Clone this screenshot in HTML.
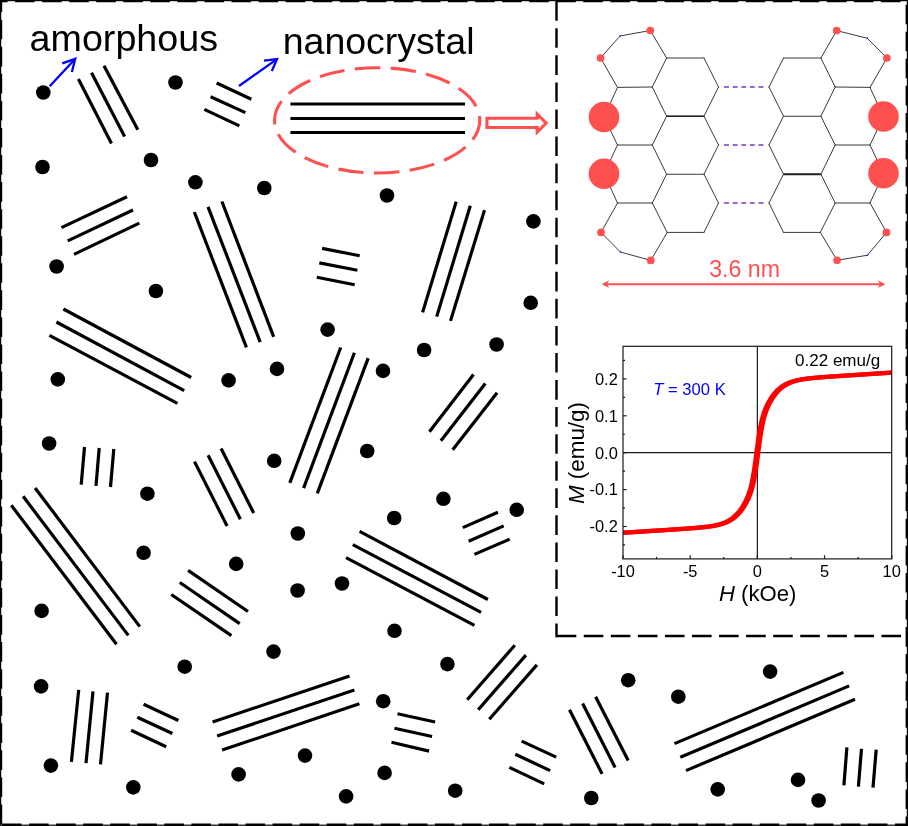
<!DOCTYPE html>
<html><head><meta charset="utf-8"><title>amorphous / nanocrystal</title>
<style>html,body{margin:0;padding:0;background:#fff;}body{width:908px;height:826px;overflow:hidden;font-family:"Liberation Sans",sans-serif;}svg{display:block;will-change:transform;}text{font-family:"Liberation Sans",sans-serif;}</style>
</head><body>
<svg width="908" height="826" viewBox="0 0 908 826">
<rect x="0" y="0" width="908" height="826" fill="#ffffff"/>
<g id="outer-border" fill="none" stroke="#000">
<rect x="0.6" y="0.6" width="906.8" height="824.6" stroke-width="1.2"/>
<path d="M1.1,1 V826" stroke-width="2.2" stroke-dasharray="19.6 7.46" stroke-dashoffset="-18.73"/>
<path d="M0,1.1 H908" stroke-width="2.2" stroke-dasharray="19.6 7.46" stroke-dashoffset="-15.03"/>
<path d="M906.8,1 V826" stroke-width="2.4" stroke-dasharray="19.6 7.46" stroke-dashoffset="-3.65"/>
<path d="M0,824.7 H908" stroke-width="2.6" stroke-dasharray="19.6 7.46" stroke-dashoffset="-1.97"/>
</g>
<g id="inset-border" fill="none" stroke="#000" stroke-width="2.4">
<path d="M556.5,1.2 V637.2" stroke-dasharray="19.6 7.46"/>
<path d="M555.3,636 H908" stroke-dasharray="19.6 7.46" stroke-dashoffset="-1.4"/>
</g>
<g id="lines" stroke="#000" stroke-width="3.2" stroke-linecap="butt" fill="none">
<line x1="78.4" y1="78.9" x2="111.5" y2="143.4"/>
<line x1="91.5" y1="72.7" x2="124.6" y2="136.6"/>
<line x1="104" y1="65.7" x2="137.8" y2="129.8"/>
<line x1="216.6" y1="83" x2="251.4" y2="99.3"/>
<line x1="210.6" y1="96.8" x2="245.4" y2="112.6"/>
<line x1="204.3" y1="109.4" x2="239.4" y2="125.9"/>
<line x1="61.4" y1="227.6" x2="127" y2="196.8"/>
<line x1="67.7" y1="240.9" x2="133" y2="210"/>
<line x1="74" y1="254.4" x2="139.3" y2="223.1"/>
<line x1="63.4" y1="309" x2="191.2" y2="377.5"/>
<line x1="56.4" y1="322" x2="184.2" y2="390.6"/>
<line x1="49.4" y1="335.4" x2="177.4" y2="403.4"/>
<line x1="194.3" y1="212" x2="246.4" y2="347.4"/>
<line x1="208" y1="206.8" x2="260.2" y2="342.1"/>
<line x1="221.9" y1="201.5" x2="273.7" y2="336.9"/>
<line x1="322.1" y1="248.4" x2="359.7" y2="255.7"/>
<line x1="319.3" y1="262.9" x2="357.4" y2="270.2"/>
<line x1="316.8" y1="277.2" x2="354.7" y2="284.7"/>
<line x1="456.2" y1="201.6" x2="422.6" y2="312.4"/>
<line x1="470.3" y1="205.8" x2="436.7" y2="316.6"/>
<line x1="484.5" y1="210.1" x2="450.5" y2="320.9"/>
<line x1="340.7" y1="347.5" x2="289.8" y2="482.9"/>
<line x1="354.4" y1="352.8" x2="303.6" y2="488.1"/>
<line x1="368.2" y1="358.1" x2="317.3" y2="493.4"/>
<line x1="473.5" y1="374.6" x2="429.4" y2="431.8"/>
<line x1="485.3" y1="383.6" x2="440.9" y2="440.8"/>
<line x1="497.1" y1="392.7" x2="452.7" y2="449.8"/>
<line x1="84.5" y1="447" x2="81.2" y2="484.6"/>
<line x1="99.2" y1="448" x2="96" y2="485.8"/>
<line x1="113.8" y1="449" x2="110.5" y2="487"/>
<line x1="194.5" y1="461.6" x2="227.1" y2="526"/>
<line x1="208.1" y1="455.3" x2="240.4" y2="519.2"/>
<line x1="221.1" y1="448.5" x2="253.7" y2="513"/>
<line x1="35.1" y1="488" x2="139.8" y2="626.6"/>
<line x1="23.1" y1="496.3" x2="128.3" y2="635.4"/>
<line x1="11.3" y1="505.3" x2="116.5" y2="644.2"/>
<line x1="462.8" y1="527.6" x2="497.9" y2="512.3"/>
<line x1="468.6" y1="541.2" x2="503.7" y2="525.9"/>
<line x1="474.4" y1="554.4" x2="509.7" y2="539.1"/>
<line x1="359.6" y1="531.4" x2="487.9" y2="599.5"/>
<line x1="352.8" y1="544.7" x2="481.1" y2="612.3"/>
<line x1="346" y1="557.7" x2="474.4" y2="625.4"/>
<line x1="188.1" y1="570.4" x2="248" y2="611.5"/>
<line x1="179.8" y1="582.5" x2="239.7" y2="623.6"/>
<line x1="171.3" y1="594.5" x2="231.4" y2="635.6"/>
<line x1="514.8" y1="645.3" x2="467.2" y2="699.7"/>
<line x1="525.9" y1="655.1" x2="478.2" y2="709.7"/>
<line x1="536.9" y1="664.9" x2="489.3" y2="719.3"/>
<line x1="78.7" y1="689.9" x2="71.4" y2="761.9"/>
<line x1="93" y1="691.4" x2="86" y2="763.1"/>
<line x1="107.5" y1="692.7" x2="100.5" y2="764.4"/>
<line x1="143.6" y1="704.2" x2="178.4" y2="720.5"/>
<line x1="137.3" y1="717.2" x2="172.4" y2="733.5"/>
<line x1="131.1" y1="730.3" x2="166.2" y2="746.8"/>
<line x1="212.6" y1="722" x2="349.6" y2="675.9"/>
<line x1="217.1" y1="736" x2="354.4" y2="689.9"/>
<line x1="222.1" y1="750.1" x2="359.4" y2="703.7"/>
<line x1="397.5" y1="713.7" x2="435.1" y2="722"/>
<line x1="394.5" y1="728.3" x2="432.1" y2="736.5"/>
<line x1="391.5" y1="742.3" x2="429.1" y2="751.1"/>
<line x1="521.6" y1="741.1" x2="556.2" y2="757.1"/>
<line x1="515.3" y1="754.3" x2="550.2" y2="770.6"/>
<line x1="509.3" y1="767.4" x2="544.2" y2="783.9"/>
<line x1="569.5" y1="709.7" x2="602.1" y2="773.9"/>
<line x1="582.6" y1="703.5" x2="615.1" y2="767.4"/>
<line x1="595.6" y1="696.7" x2="628.2" y2="760.6"/>
<line x1="674.5" y1="743.6" x2="843.4" y2="672.4"/>
<line x1="680.3" y1="757.3" x2="849.2" y2="685.9"/>
<line x1="686" y1="770.6" x2="855" y2="699.2"/>
<line x1="846.9" y1="747.3" x2="843.9" y2="785.4"/>
<line x1="861.5" y1="748.8" x2="858.4" y2="786.7"/>
<line x1="876.2" y1="749.6" x2="873" y2="787.7"/>
</g>
<g id="ell-lines" stroke="#000" stroke-width="3" fill="none">
<line x1="290.4" y1="104" x2="465" y2="104"/>
<line x1="290.4" y1="118.4" x2="465" y2="118.4"/>
<line x1="290.4" y1="132.6" x2="465" y2="132.6"/>
</g>
<g id="dots" fill="#000">
<circle cx="43.3" cy="92.5" r="7.3"/>
<circle cx="175.5" cy="82.5" r="7.3"/>
<circle cx="42.5" cy="167" r="7.3"/>
<circle cx="151" cy="160" r="7.3"/>
<circle cx="195.4" cy="182.3" r="7.3"/>
<circle cx="264.3" cy="188" r="7.3"/>
<circle cx="387" cy="195.5" r="7.3"/>
<circle cx="56.6" cy="266.5" r="7.3"/>
<circle cx="155.9" cy="291" r="7.3"/>
<circle cx="57.8" cy="379.4" r="7.3"/>
<circle cx="228.6" cy="380.4" r="7.3"/>
<circle cx="277" cy="368.9" r="7.3"/>
<circle cx="327.6" cy="329.6" r="7.3"/>
<circle cx="383" cy="370.9" r="7.3"/>
<circle cx="533.4" cy="221.4" r="7.3"/>
<circle cx="530.7" cy="302.8" r="7.3"/>
<circle cx="496.6" cy="344.5" r="7.3"/>
<circle cx="424.1" cy="350" r="7.3"/>
<circle cx="49.1" cy="443.5" r="7.3"/>
<circle cx="147.4" cy="493.7" r="7.3"/>
<circle cx="143.6" cy="552.8" r="7.3"/>
<circle cx="274.2" cy="460.8" r="7.3"/>
<circle cx="367.2" cy="451" r="7.3"/>
<circle cx="394.2" cy="518" r="7.3"/>
<circle cx="297.8" cy="533.5" r="7.3"/>
<circle cx="443.4" cy="498.8" r="7.3"/>
<circle cx="516.7" cy="509.8" r="7.3"/>
<circle cx="41.6" cy="610.9" r="7.3"/>
<circle cx="184.7" cy="666.7" r="7.3"/>
<circle cx="236.2" cy="563.9" r="7.3"/>
<circle cx="297.6" cy="590.5" r="7.3"/>
<circle cx="342" cy="583.5" r="7.3"/>
<circle cx="273.5" cy="651.6" r="7.3"/>
<circle cx="394.5" cy="630.8" r="7.3"/>
<circle cx="447.4" cy="664.1" r="7.3"/>
<circle cx="41.1" cy="686.4" r="7.3"/>
<circle cx="50.9" cy="765.6" r="7.3"/>
<circle cx="133.3" cy="787.4" r="7.3"/>
<circle cx="238.6" cy="774.4" r="7.3"/>
<circle cx="305" cy="755.6" r="7.3"/>
<circle cx="346.1" cy="796.4" r="7.3"/>
<circle cx="383.2" cy="701.2" r="7.3"/>
<circle cx="384.6" cy="772.9" r="7.3"/>
<circle cx="455.2" cy="790.7" r="7.3"/>
<circle cx="591.3" cy="798" r="7.3"/>
<circle cx="628.2" cy="680.2" r="7.3"/>
<circle cx="678.3" cy="696.7" r="7.3"/>
<circle cx="770.1" cy="671.6" r="7.3"/>
<circle cx="717.7" cy="789.4" r="7.3"/>
<circle cx="798" cy="779.9" r="7.3"/>
<circle cx="818.6" cy="800.5" r="7.3"/>
</g>
<text x="29.6" y="50.5" font-size="37.5" textLength="188.4" lengthAdjust="spacingAndGlyphs" fill="#000">amorphous</text>
<text x="282.7" y="53.8" font-size="37.5" textLength="191.8" lengthAdjust="spacingAndGlyphs" fill="#000">nanocrystal</text>
<g id="blue-arrows" stroke="#0000ff" stroke-width="2.3" fill="none" stroke-linecap="butt" stroke-linejoin="miter">
<path d="M49.7,86.3 L74.6,59.5"/><path d="M62.2,63.4 L75.2,58.9 L71.9,72"/>
<path d="M239,86 L276.2,59.6"/><path d="M264,60.6 L277,59.1 L271.8,71"/>
</g>
<path id="red-ellipse" d="M274.6,120.35 C274.6,91.27220792303 320.53558467052,67.69999999999999 377.2,67.69999999999999 C433.86441532948,67.69999999999999 479.79999999999995,91.27220792303 479.79999999999995,120.35 C479.79999999999995,149.42779207696998 433.86441532948,173.0 377.2,173.0 C320.53558467052,173.0 274.6,149.42779207696998 274.6,120.35 Z" fill="none" stroke="#ff5050" stroke-width="3.1" stroke-dasharray="25.4 10.35" stroke-dashoffset="4.6"/>
<path id="hollow-arrow" d="M486.95,118.25 H537.25 V114.15 L546.2,123.1 L537.25,132.05 V127.55 H486.95 Z" fill="#fff" stroke="#ff5050" stroke-width="3.1" stroke-linejoin="miter"/>
<g id="molecule">
<g stroke="#3a3a3a" stroke-width="1" fill="none" stroke-linecap="round">
<line x1="600.6" y1="58" x2="620" y2="36"/>
<line x1="620" y1="36" x2="650.3" y2="30.5"/>
<line x1="650.3" y1="30.5" x2="666.6" y2="58"/>
<line x1="600.6" y1="58" x2="617.5" y2="87.4"/>
<line x1="617.5" y1="87.4" x2="652.3" y2="87"/>
<line x1="652.3" y1="87" x2="666.6" y2="58"/>
<line x1="666.6" y1="58" x2="704" y2="58"/>
<line x1="704" y1="58" x2="718.5" y2="87"/>
<line x1="718.5" y1="87" x2="704" y2="116.25"/>
<line x1="704" y1="116.25" x2="666.6" y2="116.25"/>
<line x1="666.6" y1="116.25" x2="652.3" y2="87"/>
<line x1="617.5" y1="87.4" x2="604" y2="117"/>
<line x1="604" y1="117" x2="617.5" y2="145"/>
<line x1="617.5" y1="145" x2="652.3" y2="145"/>
<line x1="652.3" y1="145" x2="666.6" y2="116.25"/>
<line x1="704" y1="116.25" x2="718.5" y2="145"/>
<line x1="718.5" y1="145" x2="704" y2="174.25"/>
<line x1="704" y1="174.25" x2="666.6" y2="174.25"/>
<line x1="666.6" y1="174.25" x2="652.3" y2="145"/>
<line x1="617.5" y1="145" x2="604" y2="173.75"/>
<line x1="604" y1="173.75" x2="617.5" y2="203"/>
<line x1="617.5" y1="203" x2="652.3" y2="203"/>
<line x1="652.3" y1="203" x2="666.6" y2="174.25"/>
<line x1="704" y1="174.25" x2="718.5" y2="203"/>
<line x1="718.5" y1="203" x2="704" y2="232.4"/>
<line x1="704" y1="232.4" x2="667.2" y2="232.4"/>
<line x1="667.2" y1="232.4" x2="652.3" y2="203"/>
<line x1="617.5" y1="203" x2="601" y2="232.4"/>
<line x1="601" y1="232.4" x2="620.4" y2="252"/>
<line x1="620.4" y1="252" x2="650.8" y2="260.4"/>
<line x1="650.8" y1="260.4" x2="667.2" y2="232.4"/>
<line x1="886.90" y1="58" x2="867.25" y2="38.25"/>
<line x1="867.25" y1="38.25" x2="836.70" y2="30.6"/>
<line x1="836.70" y1="30.6" x2="820.90" y2="58"/>
<line x1="886.90" y1="58" x2="870.00" y2="87.4"/>
<line x1="870.00" y1="87.4" x2="835.20" y2="87"/>
<line x1="835.20" y1="87" x2="820.90" y2="58"/>
<line x1="820.90" y1="58" x2="783.50" y2="58"/>
<line x1="783.50" y1="58" x2="769.00" y2="87"/>
<line x1="769.00" y1="87" x2="783.50" y2="116.25"/>
<line x1="783.50" y1="116.25" x2="820.90" y2="116.25"/>
<line x1="820.90" y1="116.25" x2="835.20" y2="87"/>
<line x1="870.00" y1="87.4" x2="883.50" y2="117"/>
<line x1="883.50" y1="117" x2="870.00" y2="145"/>
<line x1="870.00" y1="145" x2="835.20" y2="145"/>
<line x1="835.20" y1="145" x2="820.90" y2="116.25"/>
<line x1="783.50" y1="116.25" x2="769.00" y2="145"/>
<line x1="769.00" y1="145" x2="783.50" y2="174.25"/>
<line x1="783.50" y1="174.25" x2="820.90" y2="174.25"/>
<line x1="820.90" y1="174.25" x2="835.20" y2="145"/>
<line x1="870.00" y1="145" x2="883.50" y2="173.75"/>
<line x1="883.50" y1="173.75" x2="870.00" y2="203"/>
<line x1="870.00" y1="203" x2="835.20" y2="203"/>
<line x1="835.20" y1="203" x2="820.90" y2="174.25"/>
<line x1="783.50" y1="174.25" x2="769.00" y2="203"/>
<line x1="769.00" y1="203" x2="783.50" y2="232.4"/>
<line x1="783.50" y1="232.4" x2="820.30" y2="232.4"/>
<line x1="820.30" y1="232.4" x2="835.20" y2="203"/>
<line x1="870.00" y1="203" x2="886.50" y2="232.4"/>
<line x1="886.50" y1="232.4" x2="867.50" y2="255.2"/>
<line x1="867.50" y1="255.2" x2="837.10" y2="260.3"/>
<line x1="837.10" y1="260.3" x2="820.30" y2="232.4"/>
</g>
<g stroke="#222" fill="none"><line x1="666.6" y1="116.25" x2="704" y2="116.25" stroke-width="1.5"/><line x1="783.5" y1="174.25" x2="820.9" y2="174.25" stroke-width="1.9"/></g>
<g stroke="#7a36c0" stroke-width="1.45" stroke-dasharray="4.9 3.7" fill="none">
<line x1="724.1" y1="87" x2="763.7" y2="87"/>
<line x1="724.1" y1="145" x2="763.7" y2="145"/>
<line x1="724.1" y1="203" x2="763.7" y2="203"/>
</g>
<g fill="#ff5050">
<circle cx="600.6" cy="58" r="3.85"/>
<circle cx="886.90" cy="58" r="3.85"/>
<circle cx="650.3" cy="30.5" r="3.85"/>
<circle cx="836.70" cy="30.6" r="3.85"/>
<circle cx="601" cy="232.4" r="3.85"/>
<circle cx="886.50" cy="232.4" r="3.85"/>
<circle cx="650.8" cy="260.4" r="3.85"/>
<circle cx="837.10" cy="260.3" r="3.85"/>
<circle cx="604" cy="117" r="15.3"/>
<circle cx="883.50" cy="116.5" r="15.3"/>
<circle cx="604" cy="173.75" r="15.3"/>
<circle cx="883.50" cy="173.25" r="15.3"/>
</g>
<g fill="#2020ff">
<circle cx="620" cy="36" r="0.8"/>
<circle cx="867.25" cy="38.25" r="0.8"/>
<circle cx="620.4" cy="252" r="0.8"/>
<circle cx="867.50" cy="255.2" r="0.8"/>
</g>
</g>
<text x="744.6" y="276.6" font-size="23.2" text-anchor="middle" fill="#ff5050">3.6 nm</text>
<g fill="#ff5050" stroke="none"><path d="M604,283.25 H883 V285.15 H604 Z"/><path d="M601.7,284.2 L609.2,280.3 L606.9,284.2 L609.2,288.1 Z"/><path d="M885.3,284.2 L877.8,280.3 L880.1,284.2 L877.8,288.1 Z"/></g>
<g id="chart">
<rect x="623.0" y="346.3" width="268.70000000000005" height="212.59999999999997" fill="#fff" stroke="none"/>
<g stroke="#1a1a1a" stroke-width="1.2" fill="none">
<line x1="623.0" y1="452.7" x2="891.7" y2="452.7"/>
<line x1="757.35" y1="346.3" x2="757.35" y2="558.9"/>
</g>
<clipPath id="plotclip"><rect x="623.0" y="346.3" width="268.70" height="212.60"/></clipPath>
<g fill="none" stroke="#ff0000" stroke-width="4.3" stroke-linejoin="round" clip-path="url(#plotclip)"><path d="M620.31,532.94 L620.86,532.90 L621.41,532.87 L621.96,532.83 L622.51,532.80 L623.05,532.76 L623.60,532.73 L624.15,532.69 L624.70,532.66 L625.25,532.62 L625.79,532.59 L626.34,532.55 L626.89,532.52 L627.44,532.48 L627.99,532.45 L628.54,532.41 L629.08,532.38 L629.63,532.34 L630.18,532.31 L630.73,532.27 L631.28,532.24 L631.82,532.20 L632.37,532.17 L632.92,532.13 L633.47,532.10 L634.02,532.06 L634.56,532.03 L635.11,531.99 L635.66,531.96 L636.21,531.92 L636.76,531.89 L637.31,531.85 L637.85,531.82 L638.40,531.78 L638.95,531.75 L639.50,531.71 L640.05,531.68 L640.59,531.64 L641.14,531.61 L641.69,531.57 L642.24,531.54 L642.79,531.50 L643.34,531.47 L643.88,531.43 L644.43,531.40 L644.98,531.36 L645.53,531.33 L646.08,531.29 L646.62,531.26 L647.17,531.22 L647.72,531.19 L648.27,531.15 L648.82,531.12 L649.36,531.08 L649.91,531.05 L650.46,531.01 L651.01,530.97 L651.56,530.94 L652.11,530.90 L652.65,530.87 L653.20,530.83 L653.75,530.80 L654.30,530.76 L654.85,530.73 L655.39,530.69 L655.94,530.66 L656.49,530.62 L657.04,530.59 L657.59,530.55 L658.14,530.52 L658.68,530.48 L659.23,530.45 L659.78,530.41 L660.33,530.38 L660.88,530.34 L661.42,530.31 L661.97,530.27 L662.52,530.24 L663.07,530.20 L663.62,530.16 L664.16,530.13 L664.71,530.09 L665.26,530.06 L665.81,530.02 L666.36,529.99 L666.91,529.95 L667.45,529.92 L668.00,529.88 L668.55,529.84 L669.10,529.81 L669.65,529.77 L670.19,529.74 L670.74,529.70 L671.29,529.66 L671.84,529.63 L672.39,529.59 L672.94,529.56 L673.48,529.52 L674.03,529.48 L674.58,529.45 L675.13,529.41 L675.68,529.38 L676.22,529.34 L676.77,529.30 L677.32,529.27 L677.87,529.23 L678.42,529.19 L678.96,529.15 L679.51,529.12 L680.06,529.08 L680.61,529.04 L681.16,529.01 L681.71,528.97 L682.25,528.93 L682.80,528.89 L683.35,528.85 L683.90,528.82 L684.45,528.78 L684.99,528.74 L685.54,528.70 L686.09,528.66 L686.64,528.62 L687.19,528.58 L687.74,528.54 L688.28,528.50 L688.83,528.46 L689.38,528.42 L689.93,528.38 L690.48,528.34 L691.02,528.30 L691.57,528.25 L692.12,528.21 L692.67,528.17 L693.22,528.13 L693.76,528.08 L694.31,528.04 L694.86,527.99 L695.41,527.95 L695.96,527.90 L696.51,527.85 L697.05,527.81 L697.60,527.76 L698.15,527.71 L698.70,527.66 L699.25,527.61 L699.79,527.56 L700.34,527.51 L700.89,527.46 L701.44,527.40 L701.99,527.35 L702.54,527.29 L703.08,527.23 L703.63,527.17 L704.18,527.12 L704.73,527.05 L705.28,526.99 L705.82,526.93 L706.37,526.86 L706.92,526.79 L707.47,526.73 L708.02,526.65 L708.56,526.58 L709.11,526.51 L709.66,526.43 L710.21,526.35 L710.76,526.27 L711.31,526.18 L711.85,526.10 L712.40,526.01 L712.95,525.91 L713.50,525.82 L714.05,525.72 L714.59,525.61 L715.14,525.51 L715.69,525.40 L716.24,525.28 L716.79,525.16 L717.34,525.04 L717.88,524.91 L718.43,524.78 L718.98,524.64 L719.53,524.49 L720.08,524.34 L720.62,524.19 L721.17,524.02 L721.72,523.85 L722.27,523.68 L722.82,523.49 L723.36,523.30 L723.91,523.10 L724.46,522.89 L725.01,522.67 L725.56,522.45 L726.11,522.21 L726.65,521.96 L727.20,521.70 L727.75,521.44 L728.30,521.15 L728.85,520.86 L729.39,520.56 L729.94,520.24 L730.49,519.90 L731.04,519.55 L731.59,519.19 L732.14,518.81 L732.68,518.42 L733.23,518.01 L733.78,517.58 L734.33,517.13 L734.88,516.66 L735.42,516.18 L735.97,515.67 L736.52,515.14 L737.07,514.59 L737.62,514.02 L738.16,513.43 L738.71,512.81 L739.26,512.17 L739.81,511.50 L740.36,510.81 L740.91,510.09 L741.45,509.34 L742.00,508.57 L742.55,507.76 L743.10,506.92 L743.65,506.05 L744.19,505.15 L744.74,504.20 L745.29,503.22 L745.84,502.20 L746.39,501.13 L746.94,500.01 L747.48,498.83 L748.03,497.59 L748.58,496.28 L749.13,494.88 L749.68,493.38 L750.22,491.77 L750.77,490.03 L751.32,488.14 L751.87,486.08 L752.42,483.81 L752.96,481.33 L753.51,478.59 L754.06,475.60 L754.61,472.33 L755.16,468.80 L755.71,465.02 L756.25,461.04 L756.80,456.91 L757.35,452.70 L757.90,448.49 L758.45,444.36 L758.99,440.38 L759.54,436.60 L760.09,433.07 L760.64,429.80 L761.19,426.81 L761.74,424.07 L762.28,421.59 L762.83,419.32 L763.38,417.26 L763.93,415.37 L764.48,413.63 L765.02,412.02 L765.57,410.52 L766.12,409.12 L766.67,407.81 L767.22,406.57 L767.76,405.39 L768.31,404.27 L768.86,403.20 L769.41,402.18 L769.96,401.20 L770.51,400.25 L771.05,399.35 L771.60,398.48 L772.15,397.64 L772.70,396.83 L773.25,396.06 L773.79,395.31 L774.34,394.59 L774.89,393.90 L775.44,393.23 L775.99,392.59 L776.54,391.97 L777.08,391.38 L777.63,390.81 L778.18,390.26 L778.73,389.73 L779.28,389.22 L779.82,388.74 L780.37,388.27 L780.92,387.82 L781.47,387.39 L782.02,386.98 L782.56,386.59 L783.11,386.21 L783.66,385.85 L784.21,385.50 L784.76,385.16 L785.31,384.84 L785.85,384.54 L786.40,384.25 L786.95,383.96 L787.50,383.70 L788.05,383.44 L788.59,383.19 L789.14,382.95 L789.69,382.73 L790.24,382.51 L790.79,382.30 L791.34,382.10 L791.88,381.91 L792.43,381.72 L792.98,381.55 L793.53,381.38 L794.08,381.21 L794.62,381.06 L795.17,380.91 L795.72,380.76 L796.27,380.62 L796.82,380.49 L797.36,380.36 L797.91,380.24 L798.46,380.12 L799.01,380.00 L799.56,379.89 L800.11,379.79 L800.65,379.68 L801.20,379.58 L801.75,379.49 L802.30,379.39 L802.85,379.30 L803.39,379.22 L803.94,379.13 L804.49,379.05 L805.04,378.97 L805.59,378.89 L806.14,378.82 L806.68,378.75 L807.23,378.67 L807.78,378.61 L808.33,378.54 L808.88,378.47 L809.42,378.41 L809.97,378.35 L810.52,378.28 L811.07,378.23 L811.62,378.17 L812.16,378.11 L812.71,378.05 L813.26,378.00 L813.81,377.94 L814.36,377.89 L814.91,377.84 L815.45,377.79 L816.00,377.74 L816.55,377.69 L817.10,377.64 L817.65,377.59 L818.19,377.55 L818.74,377.50 L819.29,377.45 L819.84,377.41 L820.39,377.36 L820.94,377.32 L821.48,377.27 L822.03,377.23 L822.58,377.19 L823.13,377.15 L823.68,377.10 L824.22,377.06 L824.77,377.02 L825.32,376.98 L825.87,376.94 L826.42,376.90 L826.96,376.86 L827.51,376.82 L828.06,376.78 L828.61,376.74 L829.16,376.70 L829.71,376.66 L830.25,376.62 L830.80,376.58 L831.35,376.55 L831.90,376.51 L832.45,376.47 L832.99,376.43 L833.54,376.39 L834.09,376.36 L834.64,376.32 L835.19,376.28 L835.74,376.25 L836.28,376.21 L836.83,376.17 L837.38,376.13 L837.93,376.10 L838.48,376.06 L839.02,376.02 L839.57,375.99 L840.12,375.95 L840.67,375.92 L841.22,375.88 L841.76,375.84 L842.31,375.81 L842.86,375.77 L843.41,375.74 L843.96,375.70 L844.51,375.66 L845.05,375.63 L845.60,375.59 L846.15,375.56 L846.70,375.52 L847.25,375.48 L847.79,375.45 L848.34,375.41 L848.89,375.38 L849.44,375.34 L849.99,375.31 L850.54,375.27 L851.08,375.24 L851.63,375.20 L852.18,375.16 L852.73,375.13 L853.28,375.09 L853.82,375.06 L854.37,375.02 L854.92,374.99 L855.47,374.95 L856.02,374.92 L856.56,374.88 L857.11,374.85 L857.66,374.81 L858.21,374.78 L858.76,374.74 L859.31,374.71 L859.85,374.67 L860.40,374.64 L860.95,374.60 L861.50,374.57 L862.05,374.53 L862.59,374.50 L863.14,374.46 L863.69,374.43 L864.24,374.39 L864.79,374.35 L865.34,374.32 L865.88,374.28 L866.43,374.25 L866.98,374.21 L867.53,374.18 L868.08,374.14 L868.62,374.11 L869.17,374.07 L869.72,374.04 L870.27,374.00 L870.82,373.97 L871.36,373.93 L871.91,373.90 L872.46,373.86 L873.01,373.83 L873.56,373.79 L874.11,373.76 L874.65,373.72 L875.20,373.69 L875.75,373.65 L876.30,373.62 L876.85,373.58 L877.39,373.55 L877.94,373.51 L878.49,373.48 L879.04,373.44 L879.59,373.41 L880.14,373.37 L880.68,373.34 L881.23,373.30 L881.78,373.27 L882.33,373.23 L882.88,373.20 L883.42,373.16 L883.97,373.13 L884.52,373.09 L885.07,373.06 L885.62,373.02 L886.16,372.99 L886.71,372.95 L887.26,372.92 L887.81,372.88 L888.36,372.85 L888.91,372.81 L889.45,372.78 L890.00,372.74 L890.55,372.71 L891.10,372.67 L891.65,372.64 L892.19,372.60 L892.74,372.57 L893.29,372.53 L893.84,372.50 L894.39,372.46" transform="translate(-0.9,0)"/><path d="M620.31,532.94 L620.86,532.90 L621.41,532.87 L621.96,532.83 L622.51,532.80 L623.05,532.76 L623.60,532.73 L624.15,532.69 L624.70,532.66 L625.25,532.62 L625.79,532.59 L626.34,532.55 L626.89,532.52 L627.44,532.48 L627.99,532.45 L628.54,532.41 L629.08,532.38 L629.63,532.34 L630.18,532.31 L630.73,532.27 L631.28,532.24 L631.82,532.20 L632.37,532.17 L632.92,532.13 L633.47,532.10 L634.02,532.06 L634.56,532.03 L635.11,531.99 L635.66,531.96 L636.21,531.92 L636.76,531.89 L637.31,531.85 L637.85,531.82 L638.40,531.78 L638.95,531.75 L639.50,531.71 L640.05,531.68 L640.59,531.64 L641.14,531.61 L641.69,531.57 L642.24,531.54 L642.79,531.50 L643.34,531.47 L643.88,531.43 L644.43,531.40 L644.98,531.36 L645.53,531.33 L646.08,531.29 L646.62,531.26 L647.17,531.22 L647.72,531.19 L648.27,531.15 L648.82,531.12 L649.36,531.08 L649.91,531.05 L650.46,531.01 L651.01,530.97 L651.56,530.94 L652.11,530.90 L652.65,530.87 L653.20,530.83 L653.75,530.80 L654.30,530.76 L654.85,530.73 L655.39,530.69 L655.94,530.66 L656.49,530.62 L657.04,530.59 L657.59,530.55 L658.14,530.52 L658.68,530.48 L659.23,530.45 L659.78,530.41 L660.33,530.38 L660.88,530.34 L661.42,530.31 L661.97,530.27 L662.52,530.24 L663.07,530.20 L663.62,530.16 L664.16,530.13 L664.71,530.09 L665.26,530.06 L665.81,530.02 L666.36,529.99 L666.91,529.95 L667.45,529.92 L668.00,529.88 L668.55,529.84 L669.10,529.81 L669.65,529.77 L670.19,529.74 L670.74,529.70 L671.29,529.66 L671.84,529.63 L672.39,529.59 L672.94,529.56 L673.48,529.52 L674.03,529.48 L674.58,529.45 L675.13,529.41 L675.68,529.38 L676.22,529.34 L676.77,529.30 L677.32,529.27 L677.87,529.23 L678.42,529.19 L678.96,529.15 L679.51,529.12 L680.06,529.08 L680.61,529.04 L681.16,529.01 L681.71,528.97 L682.25,528.93 L682.80,528.89 L683.35,528.85 L683.90,528.82 L684.45,528.78 L684.99,528.74 L685.54,528.70 L686.09,528.66 L686.64,528.62 L687.19,528.58 L687.74,528.54 L688.28,528.50 L688.83,528.46 L689.38,528.42 L689.93,528.38 L690.48,528.34 L691.02,528.30 L691.57,528.25 L692.12,528.21 L692.67,528.17 L693.22,528.13 L693.76,528.08 L694.31,528.04 L694.86,527.99 L695.41,527.95 L695.96,527.90 L696.51,527.85 L697.05,527.81 L697.60,527.76 L698.15,527.71 L698.70,527.66 L699.25,527.61 L699.79,527.56 L700.34,527.51 L700.89,527.46 L701.44,527.40 L701.99,527.35 L702.54,527.29 L703.08,527.23 L703.63,527.17 L704.18,527.12 L704.73,527.05 L705.28,526.99 L705.82,526.93 L706.37,526.86 L706.92,526.79 L707.47,526.73 L708.02,526.65 L708.56,526.58 L709.11,526.51 L709.66,526.43 L710.21,526.35 L710.76,526.27 L711.31,526.18 L711.85,526.10 L712.40,526.01 L712.95,525.91 L713.50,525.82 L714.05,525.72 L714.59,525.61 L715.14,525.51 L715.69,525.40 L716.24,525.28 L716.79,525.16 L717.34,525.04 L717.88,524.91 L718.43,524.78 L718.98,524.64 L719.53,524.49 L720.08,524.34 L720.62,524.19 L721.17,524.02 L721.72,523.85 L722.27,523.68 L722.82,523.49 L723.36,523.30 L723.91,523.10 L724.46,522.89 L725.01,522.67 L725.56,522.45 L726.11,522.21 L726.65,521.96 L727.20,521.70 L727.75,521.44 L728.30,521.15 L728.85,520.86 L729.39,520.56 L729.94,520.24 L730.49,519.90 L731.04,519.55 L731.59,519.19 L732.14,518.81 L732.68,518.42 L733.23,518.01 L733.78,517.58 L734.33,517.13 L734.88,516.66 L735.42,516.18 L735.97,515.67 L736.52,515.14 L737.07,514.59 L737.62,514.02 L738.16,513.43 L738.71,512.81 L739.26,512.17 L739.81,511.50 L740.36,510.81 L740.91,510.09 L741.45,509.34 L742.00,508.57 L742.55,507.76 L743.10,506.92 L743.65,506.05 L744.19,505.15 L744.74,504.20 L745.29,503.22 L745.84,502.20 L746.39,501.13 L746.94,500.01 L747.48,498.83 L748.03,497.59 L748.58,496.28 L749.13,494.88 L749.68,493.38 L750.22,491.77 L750.77,490.03 L751.32,488.14 L751.87,486.08 L752.42,483.81 L752.96,481.33 L753.51,478.59 L754.06,475.60 L754.61,472.33 L755.16,468.80 L755.71,465.02 L756.25,461.04 L756.80,456.91 L757.35,452.70 L757.90,448.49 L758.45,444.36 L758.99,440.38 L759.54,436.60 L760.09,433.07 L760.64,429.80 L761.19,426.81 L761.74,424.07 L762.28,421.59 L762.83,419.32 L763.38,417.26 L763.93,415.37 L764.48,413.63 L765.02,412.02 L765.57,410.52 L766.12,409.12 L766.67,407.81 L767.22,406.57 L767.76,405.39 L768.31,404.27 L768.86,403.20 L769.41,402.18 L769.96,401.20 L770.51,400.25 L771.05,399.35 L771.60,398.48 L772.15,397.64 L772.70,396.83 L773.25,396.06 L773.79,395.31 L774.34,394.59 L774.89,393.90 L775.44,393.23 L775.99,392.59 L776.54,391.97 L777.08,391.38 L777.63,390.81 L778.18,390.26 L778.73,389.73 L779.28,389.22 L779.82,388.74 L780.37,388.27 L780.92,387.82 L781.47,387.39 L782.02,386.98 L782.56,386.59 L783.11,386.21 L783.66,385.85 L784.21,385.50 L784.76,385.16 L785.31,384.84 L785.85,384.54 L786.40,384.25 L786.95,383.96 L787.50,383.70 L788.05,383.44 L788.59,383.19 L789.14,382.95 L789.69,382.73 L790.24,382.51 L790.79,382.30 L791.34,382.10 L791.88,381.91 L792.43,381.72 L792.98,381.55 L793.53,381.38 L794.08,381.21 L794.62,381.06 L795.17,380.91 L795.72,380.76 L796.27,380.62 L796.82,380.49 L797.36,380.36 L797.91,380.24 L798.46,380.12 L799.01,380.00 L799.56,379.89 L800.11,379.79 L800.65,379.68 L801.20,379.58 L801.75,379.49 L802.30,379.39 L802.85,379.30 L803.39,379.22 L803.94,379.13 L804.49,379.05 L805.04,378.97 L805.59,378.89 L806.14,378.82 L806.68,378.75 L807.23,378.67 L807.78,378.61 L808.33,378.54 L808.88,378.47 L809.42,378.41 L809.97,378.35 L810.52,378.28 L811.07,378.23 L811.62,378.17 L812.16,378.11 L812.71,378.05 L813.26,378.00 L813.81,377.94 L814.36,377.89 L814.91,377.84 L815.45,377.79 L816.00,377.74 L816.55,377.69 L817.10,377.64 L817.65,377.59 L818.19,377.55 L818.74,377.50 L819.29,377.45 L819.84,377.41 L820.39,377.36 L820.94,377.32 L821.48,377.27 L822.03,377.23 L822.58,377.19 L823.13,377.15 L823.68,377.10 L824.22,377.06 L824.77,377.02 L825.32,376.98 L825.87,376.94 L826.42,376.90 L826.96,376.86 L827.51,376.82 L828.06,376.78 L828.61,376.74 L829.16,376.70 L829.71,376.66 L830.25,376.62 L830.80,376.58 L831.35,376.55 L831.90,376.51 L832.45,376.47 L832.99,376.43 L833.54,376.39 L834.09,376.36 L834.64,376.32 L835.19,376.28 L835.74,376.25 L836.28,376.21 L836.83,376.17 L837.38,376.13 L837.93,376.10 L838.48,376.06 L839.02,376.02 L839.57,375.99 L840.12,375.95 L840.67,375.92 L841.22,375.88 L841.76,375.84 L842.31,375.81 L842.86,375.77 L843.41,375.74 L843.96,375.70 L844.51,375.66 L845.05,375.63 L845.60,375.59 L846.15,375.56 L846.70,375.52 L847.25,375.48 L847.79,375.45 L848.34,375.41 L848.89,375.38 L849.44,375.34 L849.99,375.31 L850.54,375.27 L851.08,375.24 L851.63,375.20 L852.18,375.16 L852.73,375.13 L853.28,375.09 L853.82,375.06 L854.37,375.02 L854.92,374.99 L855.47,374.95 L856.02,374.92 L856.56,374.88 L857.11,374.85 L857.66,374.81 L858.21,374.78 L858.76,374.74 L859.31,374.71 L859.85,374.67 L860.40,374.64 L860.95,374.60 L861.50,374.57 L862.05,374.53 L862.59,374.50 L863.14,374.46 L863.69,374.43 L864.24,374.39 L864.79,374.35 L865.34,374.32 L865.88,374.28 L866.43,374.25 L866.98,374.21 L867.53,374.18 L868.08,374.14 L868.62,374.11 L869.17,374.07 L869.72,374.04 L870.27,374.00 L870.82,373.97 L871.36,373.93 L871.91,373.90 L872.46,373.86 L873.01,373.83 L873.56,373.79 L874.11,373.76 L874.65,373.72 L875.20,373.69 L875.75,373.65 L876.30,373.62 L876.85,373.58 L877.39,373.55 L877.94,373.51 L878.49,373.48 L879.04,373.44 L879.59,373.41 L880.14,373.37 L880.68,373.34 L881.23,373.30 L881.78,373.27 L882.33,373.23 L882.88,373.20 L883.42,373.16 L883.97,373.13 L884.52,373.09 L885.07,373.06 L885.62,373.02 L886.16,372.99 L886.71,372.95 L887.26,372.92 L887.81,372.88 L888.36,372.85 L888.91,372.81 L889.45,372.78 L890.00,372.74 L890.55,372.71 L891.10,372.67 L891.65,372.64 L892.19,372.60 L892.74,372.57 L893.29,372.53 L893.84,372.50 L894.39,372.46" transform="translate(0.9,0)"/></g>
<g stroke="#1a1a1a" stroke-width="1.2" fill="none">
<rect x="623.0" y="346.3" width="268.70" height="212.60"/>
<line x1="623.0" y1="544.95" x2="625.0" y2="544.95"/>
<line x1="623.0" y1="526.50" x2="626.6" y2="526.50"/>
<line x1="623.0" y1="508.05" x2="625.0" y2="508.05"/>
<line x1="623.0" y1="489.60" x2="626.6" y2="489.60"/>
<line x1="623.0" y1="471.15" x2="625.0" y2="471.15"/>
<line x1="623.0" y1="452.70" x2="626.6" y2="452.70"/>
<line x1="623.0" y1="434.25" x2="625.0" y2="434.25"/>
<line x1="623.0" y1="415.80" x2="626.6" y2="415.80"/>
<line x1="623.0" y1="397.35" x2="625.0" y2="397.35"/>
<line x1="623.0" y1="378.90" x2="626.6" y2="378.90"/>
<line x1="623.0" y1="360.45" x2="625.0" y2="360.45"/>
<line x1="623.00" y1="558.9" x2="623.00" y2="555.3"/>
<line x1="656.59" y1="558.9" x2="656.59" y2="556.9"/>
<line x1="690.17" y1="558.9" x2="690.17" y2="555.3"/>
<line x1="723.76" y1="558.9" x2="723.76" y2="556.9"/>
<line x1="757.35" y1="558.9" x2="757.35" y2="555.3"/>
<line x1="790.94" y1="558.9" x2="790.94" y2="556.9"/>
<line x1="824.53" y1="558.9" x2="824.53" y2="555.3"/>
<line x1="858.11" y1="558.9" x2="858.11" y2="556.9"/>
<line x1="891.70" y1="558.9" x2="891.70" y2="555.3"/>
</g>
<g font-size="16.4" fill="#000">
<text x="617.8" y="384.70" text-anchor="end">0.2</text>
<text x="617.8" y="421.60" text-anchor="end">0.1</text>
<text x="617.8" y="458.50" text-anchor="end">0.0</text>
<text x="617.8" y="495.40" text-anchor="end">-0.1</text>
<text x="617.8" y="532.30" text-anchor="end">-0.2</text>
<text x="623.00" y="577" text-anchor="middle">-10</text>
<text x="690.17" y="577" text-anchor="middle">-5</text>
<text x="757.35" y="577" text-anchor="middle">0</text>
<text x="824.53" y="577" text-anchor="middle">5</text>
<text x="891.70" y="577" text-anchor="middle">10</text>
</g>
<text x="757.7" y="601" font-size="22.1" text-anchor="middle" fill="#000"><tspan font-style="italic">H</tspan> (kOe)</text>
<text transform="translate(583.8,453) rotate(-90)" font-size="22.4" text-anchor="middle" fill="#000"><tspan font-style="italic">M</tspan> (emu/g)</text>
<text x="653.3" y="395" font-size="16.6" fill="#0000ff"><tspan font-style="italic">T</tspan> = 300 K</text>
<text x="795.1" y="365.8" font-size="17" fill="#000">0.22 emu/g</text>
</g>
</svg>
</body></html>
